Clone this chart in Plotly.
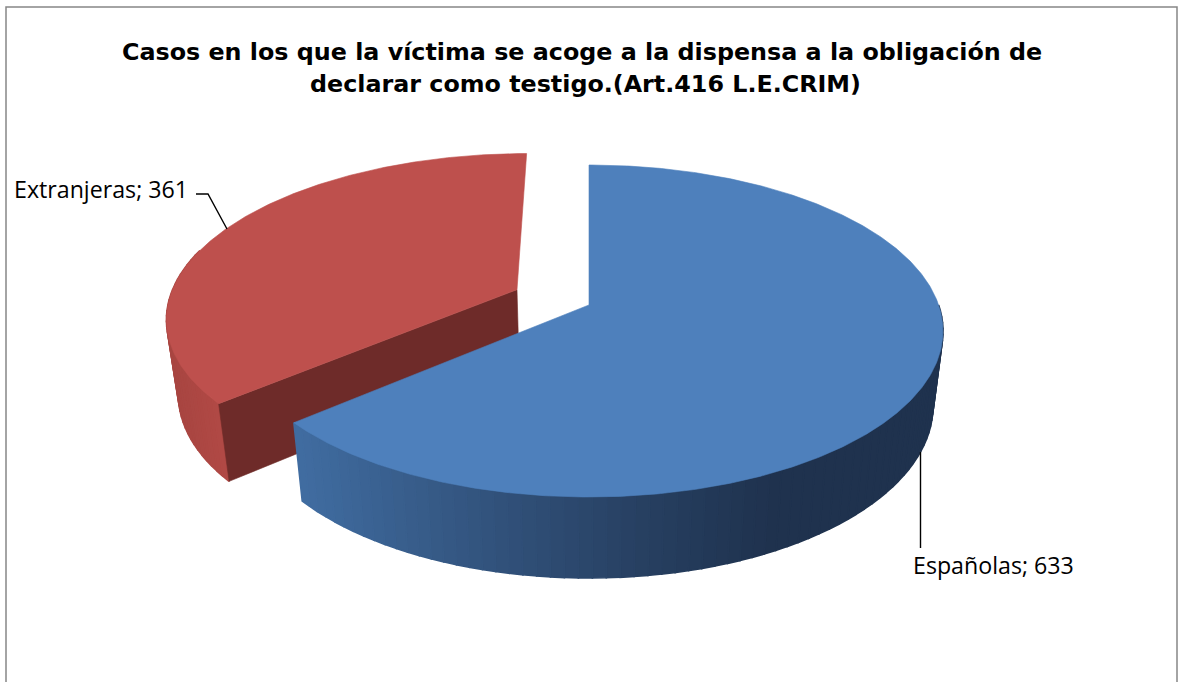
import math
import plotly.graph_objects as go

# Data
categories = ["Españolas", "Extranjeras"]
values = [633, 361]
title_lines = ["Casos en los que la víctima se acoge a la dispensa a la obligación de",
               "declarar como testigo.(Art.416 L.E.CRIM)"]

# Projection of the pie plane onto the canvas (drawing settings)
CX = 589
TOP = dict(cy=331, a=354, b=166)
BOT = dict(cy=406, a=344, b=172)
K = -0.157
EXPLODE = 0.23
STEPS = 240


def project(u, v, plane):
    den = 1 + K * v
    return (CX + plane["a"] * u * math.sqrt(1 - K * K) / den,
            plane["cy"] + plane["b"] * (v + K) / den)


def rim(theta_deg, off=(0, 0)):
    t = math.radians(theta_deg)
    return (math.sin(t) + off[0], -math.cos(t) + off[1])


def lerp(c1, c2, f):
    return "rgb(%d,%d,%d)" % tuple(round(a + (b - a) * f) for a, b in zip(c1, c2))


total = sum(values)
sweep_blue = 360 * values[0] / total
mid_red = sweep_blue + 180 * values[1] / total
off_red = (EXPLODE * math.sin(math.radians(mid_red)), -EXPLODE * math.cos(math.radians(mid_red)))

fig = go.Figure()


def poly(points, color, name=None, lw=0.6):
    xs, ys = zip(*points)
    fig.add_trace(go.Scatter(x=list(xs) + [xs[0]], y=list(ys) + [ys[0]], mode="lines",
                             fill="toself", fillcolor=color, line=dict(color=color, width=lw),
                             hoverinfo="text" if name else "skip", text=name, showlegend=False))


def side_bands(t0, t1, color_at, off=(0, 0), n=70):
    """Outer wall as narrow bands, each shaded by its horizontal position; each band overlaps the next."""
    for i in range(n):
        a = t0 + (t1 - t0) * i / n
        b = t0 + (t1 - t0) * (i + 1) / n
        ua, va = rim(a, off)
        ub, vb = rim(b, off)
        pts = [project(ua, va, TOP)]
        for j in range(1, 5):
            c = a + (b - a) * j / 4
            pts.append(project(*rim(c, off), TOP))
        for j in range(4, -1, -1):
            c = a + (b - a) * j / 4
            pts.append(project(*rim(c, off), BOT))
        poly(pts, color_at((pts[0][0] + pts[4][0]) / 2), lw=1.6)


# --- Extranjeras (exploded slice, drawn first, behind)
t_start, t_end = sweep_blue, 360
side_bands(285, t_start, lambda x: lerp((168, 69, 65), (178, 74, 70), min(1, max(0, (x - 170) / 60))),
           off_red, n=30)
ue, ve = rim(t_start, off_red)
apex = off_red
poly([project(*apex, TOP), project(ue, ve, TOP), project(ue, ve, BOT), project(*apex, BOT)], "rgb(110,43,41)")
top_red = [project(*apex, TOP)] + [project(*rim(t_start + (t_end - t_start) * i / STEPS, off_red), TOP)
                                   for i in range(STEPS + 1)]
poly(top_red, "rgb(190,80,77)", f"{categories[1]}; {values[1]}")

# --- Españolas
side_bands(90, sweep_blue,
           lambda x: lerp((31, 50, 78), (64, 108, 160), min(1, max(0, (780 - x) / 480)) ** 1.15), n=70)
top_blue = [project(0, 0, TOP)] + [project(*rim(sweep_blue * i / (STEPS * 2)), TOP) for i in range(STEPS * 2 + 1)]
poly(top_blue, "rgb(78,128,188)", f"{categories[0]}; {values[0]}")

# Leader lines
fig.add_shape(type="line", x0=920.5, y0=452, x1=920.5, y1=548, line=dict(color="black", width=1.4))
fig.add_shape(type="path", path="M 196 194 L 208 194 L 227 229", line=dict(color="black", width=1.4))

# Labels
LABEL_FONT = dict(family="Open Sans", size=23.2, color="black")
fig.add_annotation(x=12, y=188.5, text=f"{categories[1]}; {values[1]}", showarrow=False,
                   xanchor="left", yanchor="middle", font=LABEL_FONT)
fig.add_annotation(x=911, y=565, text=f"{categories[0]}; {values[0]}", showarrow=False,
                   xanchor="left", yanchor="middle", font=LABEL_FONT)

# Title
for line, y, cx in zip(title_lines, (52, 84), (582, 585)):
    fig.add_annotation(x=cx, y=y, text=f"<b>{line}</b>", showarrow=False, xanchor="center", yanchor="middle",
                       font=dict(family="DejaVu Sans", size=23.8, color="black"))

# Frame
fig.add_shape(type="path", path="M 6 682 L 6 7 L 1177 7 L 1177 682",
              line=dict(color="rgb(134,134,134)", width=1.5))

fig.update_xaxes(range=[0, 1178], visible=False, fixedrange=True)
fig.update_yaxes(range=[682, 0], visible=False, fixedrange=True)
fig.update_layout(width=1178, height=682, margin=dict(l=0, r=0, t=0, b=0),
                  paper_bgcolor="white", plot_bgcolor="white", showlegend=False)
fig.write_html("out.html", config={"displayModeBar": False},
               post_script="document.body.style.margin='0';document.body.style.overflow='hidden';")
